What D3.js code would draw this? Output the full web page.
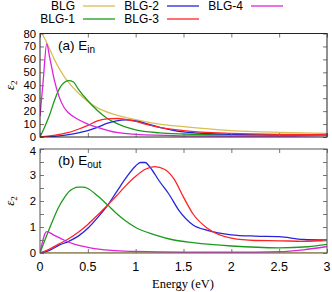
<!DOCTYPE html>
<html><head><meta charset="utf-8">
<script src="https://cdn.jsdelivr.net/npm/d3@7"></script>
<style>body{margin:0;background:#fff}svg{display:block}</style>
</head><body>
<svg id="c" width="332" height="292"></svg>
<script>
// ---- data ----
const seriesNames = ["BLG","BLG-1","BLG-2","BLG-3","BLG-4"];
const seriesColors = ["#d8bf55","#1c9a1c","#2424e0","#ff2424","#dd22dd"];
const xTicks = [0,0.5,1,1.5,2,2.5,3];
const yTicksIn = [0,10,20,30,40,50,60,70,80];
const yTicksOut = [0,1,2,3,4];

// (a) E_in
const inBLG_E   = [0.02,0.05,0.1,0.15,0.2,0.25,0.3,0.4,0.5,0.6,0.8,1.0,1.25,1.5,2.0,2.5,3.0];
const inBLG_V   = [80,76,68,60,53,47,42,34,27.5,22.5,17,13.5,10,8,5,3.6,2.8];
const inBLG1_E  = [0,0.05,0.1,0.15,0.2,0.25,0.3,0.35,0.4,0.5,0.6,0.7,0.8,1.0,1.25,1.5,2,2.5,3];
const inBLG1_V  = [0,8,17,28,37,42,43.5,42.5,37,28,20.5,14.5,10.5,5.5,3.2,2.3,1.6,1.6,2.0];
const inBLG2_E  = [0,0.1,0.2,0.3,0.4,0.5,0.6,0.7,0.8,0.9,1.0,1.1,1.25,1.5,2,2.5,3];
const inBLG2_V  = [0,0.3,0.8,1.8,3.2,5,7.5,10.5,12.5,13.2,12.5,10.5,7.5,4,2,1.5,1.3];
const inBLG3_E  = [0,0.1,0.2,0.3,0.4,0.5,0.6,0.7,0.8,0.9,1.0,1.1,1.25,1.5,2,2.5,3];
const inBLG3_V  = [0,0.8,2,3.5,6,9,12.5,14,14.3,13.5,12,10,7.5,5,2.8,2,1.8];
const inBLG4_E  = [0,0.035,0.07,0.1,0.15,0.2,0.25,0.3,0.4,0.5,0.6,0.8,1.0,1.5,2,2.5,3];
const inBLG4_V  = [16,45,72,62,44,31,23,18.5,13.5,10,7.5,3.5,2,0.9,0.6,0.6,1.2];

// (b) E_out
const outBLG_E  = [0,3];
const outBLG_V  = [0,0];
const outBLG1_E = [0,0.1,0.2,0.25,0.3,0.35,0.4,0.45,0.5,0.6,0.7,0.8,0.9,1.0,1.2,1.4,1.6,2.0,2.5,2.8,3.0];
const outBLG1_V = [0,0.95,1.8,2.1,2.35,2.48,2.53,2.53,2.48,2.2,1.87,1.52,1.22,0.98,0.7,0.5,0.4,0.27,0.2,0.24,0.33];
const outBLG2_E = [0,0.1,0.2,0.3,0.4,0.5,0.6,0.7,0.8,0.9,1.0,1.05,1.1,1.15,1.25,1.35,1.45,1.6,1.75,2.0,2.25,2.5,2.75,3.0];
const outBLG2_V = [0,0.1,0.3,0.45,0.65,0.95,1.35,1.8,2.35,2.9,3.35,3.48,3.48,3.3,2.75,2.25,1.65,1.08,0.87,0.7,0.65,0.63,0.52,0.5];
const outBLG3_E = [0,0.1,0.2,0.3,0.4,0.5,0.6,0.7,0.8,0.9,1.0,1.1,1.2,1.3,1.4,1.5,1.6,1.75,2.0,2.25,2.5,2.75,3.0];
const outBLG3_V = [0,0.15,0.35,0.55,0.8,1.1,1.45,1.82,2.2,2.6,2.95,3.22,3.32,3.22,2.85,2.15,1.5,0.95,0.57,0.48,0.47,0.45,0.48];
const outBLG4_E = [0,0.07,0.15,0.25,0.35,0.5,0.75,1.0,1.5,2.0,2.5,2.75,3.0];
const outBLG4_V = [0,0.82,0.68,0.5,0.35,0.22,0.1,0.06,0.03,0.03,0.05,0.12,0.25];

const zip = (e,v) => e.map((x,i)=>[x,v[i]]);
const panelIn  = [zip(inBLG_E,inBLG_V), zip(inBLG1_E,inBLG1_V), zip(inBLG2_E,inBLG2_V), zip(inBLG3_E,inBLG3_V), zip(inBLG4_E,inBLG4_V)];
const panelOut = [zip(outBLG_E,outBLG_V), zip(outBLG1_E,outBLG1_V), zip(outBLG2_E,outBLG2_V), zip(outBLG3_E,outBLG3_V), zip(outBLG4_E,outBLG4_V)];

// ---- layout ----
const svg = d3.select("#c");
const L = 40, R = 327;
const x = d3.scaleLinear().domain([0,3]).range([L,R]);
const sans = "Liberation Sans, Arial, sans-serif";
const serif = "Liberation Serif, Times New Roman, serif";

function panel(top, bottom, yMax, yTicks, minorStep, data, clipId, label, sub, showXLabels, frameColor, labelShift) {
  const y = d3.scaleLinear().domain([0,yMax]).range([bottom, top]);
  svg.append("clipPath").attr("id", clipId).append("rect")
    .attr("x", L).attr("y", top).attr("width", R-L).attr("height", bottom-top);
  const g = svg.append("g");
  const line = d3.line().x(d=>x(d[0])).y(d=>y(d[1])).curve(d3.curveMonotoneX);
  data.forEach((s,i)=>{
    g.append("path").attr("d", line(s)).attr("fill","none")
      .attr("stroke", seriesColors[i]).attr("stroke-width",1.3)
      .attr("clip-path",`url(#${clipId})`);
  });
  const ax = svg.append("g").attr("stroke", frameColor).attr("fill","none");
  ax.append("g").attr("transform",`translate(0,${bottom})`)
    .call(d3.axisBottom(x).tickValues(xTicks).tickSize(-4).tickFormat(""))
    .call(s=>s.select(".domain").remove());
  ax.append("g").attr("transform",`translate(0,${top})`)
    .call(d3.axisTop(x).tickValues(xTicks).tickSize(-4).tickFormat(""))
    .call(s=>s.select(".domain").remove());
  const minor = d3.range(0, yMax+1e-9, minorStep);
  ax.append("g").attr("transform",`translate(${L},0)`)
    .call(d3.axisLeft(y).tickValues(minor).tickSize(-4).tickFormat(""))
    .call(s=>s.select(".domain").remove());
  ax.append("g").attr("transform",`translate(${R},0)`)
    .call(d3.axisRight(y).tickValues(minor).tickSize(-4).tickFormat(""))
    .call(s=>s.select(".domain").remove());
  svg.selectAll(".tick line").attr("stroke", "#777");
  svg.selectAll(".tick text").remove();
  svg.append("rect").attr("x",L).attr("y",top).attr("width",R-L).attr("height",bottom-top)
    .attr("fill","none").attr("stroke",frameColor).attr("stroke-width",1);
  svg.append("g").selectAll("text").data(yTicks).join("text")
    .attr("x", L-4).attr("y", d=>y(d)+4+(labelShift[d]||0)).attr("text-anchor","end")
    .attr("font-family",sans).attr("font-size",11.3).attr("fill","#000").text(d=>d);
  if (showXLabels) {
    svg.append("g").selectAll("text").data(xTicks).join("text")
      .attr("x", d=>x(d)).attr("y", bottom+18).attr("text-anchor","middle")
      .attr("font-family",sans).attr("font-size",12.5).attr("fill","#000").text(d=>d);
  }
  const ey = (top+bottom)/2;
  const et = svg.append("text").attr("transform",`translate(14,${ey}) rotate(-90)`)
    .attr("text-anchor","middle").attr("font-family",serif).attr("font-size",13)
    .attr("font-style","italic");
  et.append("tspan").text("ε");
  et.append("tspan").attr("font-size",9).attr("dy",3).attr("font-style","normal").text("2");
  const pt = svg.append("text").attr("x",58).attr("y",top+16)
    .attr("font-family",sans).attr("font-size",13.5).attr("fill","#000");
  pt.append("tspan").text(label);
  pt.append("tspan").attr("font-size",10).attr("dy",3).text(sub);
}

panel(33.5, 137, 80, yTicksIn, 10, panelIn, "clipA", "(a) E", "in", false, "#222", {});
panel(149, 253, 4, yTicksOut, 0.5, panelOut, "clipB", "(b) E", "out", true, "#555", {4:1.5});

svg.append("text").attr("x",183).attr("y",288).attr("text-anchor","middle")
  .attr("font-family",serif).attr("font-size",12.5).text("Energy (eV)");

// legend: column-wise fill, 3 columns, 2 rows
const legPos = [[0,0],[0,1],[1,0],[1,1],[2,0]];
const colTextRight = [75,159,243];
const rowY = [6,19];
seriesNames.forEach((n,i)=>{
  const [c,r] = legPos[i];
  svg.append("text").attr("x",colTextRight[c]).attr("y",rowY[r]+4.3).attr("text-anchor","end")
    .attr("font-family",sans).attr("font-size",12).text(n);
  svg.append("line").attr("x1",colTextRight[c]+8).attr("x2",colTextRight[c]+40)
    .attr("y1",rowY[r]).attr("y2",rowY[r]).attr("stroke",seriesColors[i]).attr("stroke-width",1.3);
});
</script>
</body></html>
